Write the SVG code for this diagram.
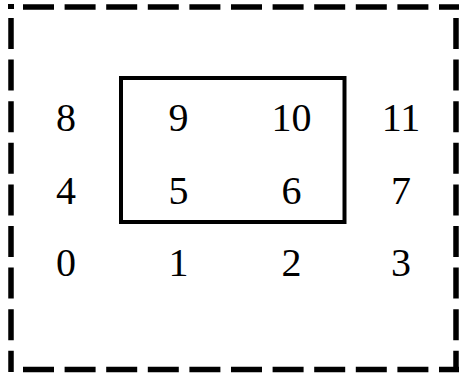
<svg xmlns="http://www.w3.org/2000/svg" width="459" height="375" viewBox="0 0 459 375">
<style>
.d{stroke:#000;stroke-width:5.5;stroke-dasharray:31 10.6;fill:none}
.t{font-family:"Liberation Serif",serif;font-size:40px;text-anchor:middle;fill:#000}
</style>
<rect width="459" height="375" fill="#fff"/>
<g id="outer">
<line class="d" x1="23" y1="7" x2="459" y2="7"/>
<line class="d" x1="23" y1="369.5" x2="459" y2="369.5"/>
<line class="d" x1="11" y1="18" x2="11" y2="372"/>
<line class="d" x1="456" y1="18" x2="456" y2="372"/>
<rect x="8" y="4" width="6" height="5" fill="#000"/>
</g>
<g id="inner">
<rect x="121" y="78" width="223.5" height="144" fill="none" stroke="#000" stroke-width="4"/>
</g>
<g id="labels">
<text class="t" x="66" y="131">8</text>
<text class="t" x="178.5" y="131">9</text>
<text class="t" x="291.5" y="131">10</text>
<text class="t" x="401" y="131">11</text>
<text class="t" x="66" y="204">4</text>
<text class="t" x="178.5" y="204">5</text>
<text class="t" x="291.5" y="204">6</text>
<text class="t" x="401" y="204">7</text>
<text class="t" x="66" y="276">0</text>
<text class="t" x="178.5" y="276">1</text>
<text class="t" x="291.5" y="276">2</text>
<text class="t" x="401" y="276">3</text>
</g>
</svg>
